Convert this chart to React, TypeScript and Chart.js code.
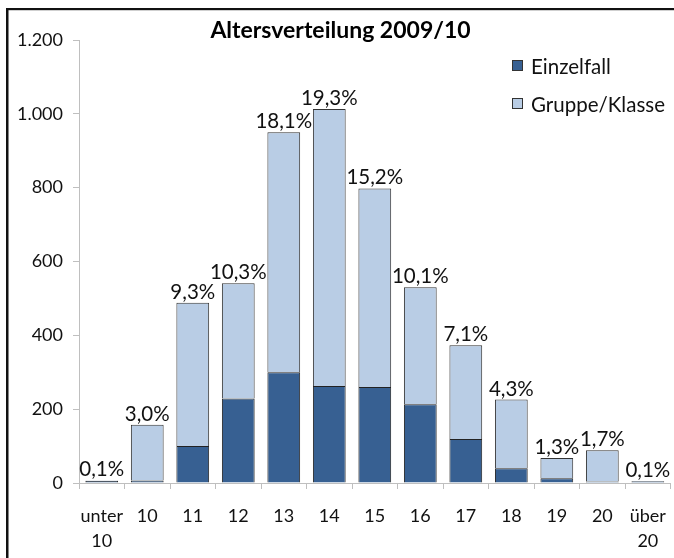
import React, { useEffect, useRef } from "react";
import { Chart, registerables } from "chart.js";

Chart.register(...registerables);

const categories: (string | string[])[] = [
  ["unter", "10"], "10", "11", "12", "13", "14", "15", "16", "17", "18", "19", "20", ["über", "20"],
];
const einzelfall = [6, 7, 100, 229, 300, 263, 260, 213, 119, 40, 13, 4, 5];
const gruppeKlasse = [1, 151, 388, 312, 650, 750, 538, 317, 254, 186, 55, 85, 0];
const percentLabels = ["0,1%", "3,0%", "9,3%", "10,3%", "18,1%", "19,3%", "15,2%", "10,1%", "7,1%", "4,3%", "1,3%", "1,7%", "0,1%"];
const yTickLabels = ["0", "200", "400", "600", "800", "1.000", "1.200"];
const titleText = "Altersverteilung 2009/10";
const seriesNames = ["Einzelfall", "Gruppe/Klasse"];

const DARK = "#376092";
const LIGHT = "#B9CDE5";
const FONT = "Lato, 'Open Sans', sans-serif";

const decorPlugin = {
  id: "decor",
  afterDatasetsDraw(chart: any) {
    const ctx = chart.ctx;
    ctx.save();
    const meta = chart.getDatasetMeta(1);
    ctx.font = `20.5px ${FONT}`;
    ctx.fillStyle = "#111";
    ctx.textAlign = "center";
    ctx.textBaseline = "alphabetic";
    meta.data.forEach((bar: any, i: number) => {
      ctx.fillText(percentLabels[i], bar.x, bar.y - 4);
    });
    ctx.restore();
  },
  afterDraw(chart: any) {
    const ctx = chart.ctx;
    ctx.save();
    ctx.fillStyle = "#111";
    ctx.fillRect(6, 8, 2.5, chart.height);
    ctx.fillRect(6, 8, chart.width, 2.2);
    ctx.font = `bold 23px ${FONT}`;
    ctx.textAlign = "center";
    ctx.textBaseline = "alphabetic";
    ctx.fillStyle = "#000";
    ctx.fillText(titleText, 340.5, 37.5);
    const colors = [DARK, LIGHT];
    const rows = [66, 104];
    ctx.font = `20.5px ${FONT}`;
    ctx.textAlign = "left";
    ctx.textBaseline = "middle";
    seriesNames.forEach((name, i) => {
      const y = rows[i];
      ctx.fillStyle = colors[i];
      ctx.fillRect(512, y - 6, 11, 11);
      ctx.strokeStyle = "#333";
      ctx.lineWidth = 1;
      ctx.strokeRect(512.5, y - 5.5, 10, 10);
      ctx.fillStyle = "#111";
      ctx.fillText(name, 531, y + 1);
    });
    ctx.restore();
  },
};

export default function App() {
  const ref = useRef<HTMLCanvasElement | null>(null);
  useEffect(() => {
    if (!ref.current) return;
    const chart = new Chart(ref.current, {
      type: "bar",
      data: {
        labels: categories,
        datasets: [
          {
            label: seriesNames[0],
            data: einzelfall,
            backgroundColor: DARK,
            borderColor: "#222",
            borderWidth: 1,
            barPercentage: 0.72,
            categoryPercentage: 1,
          },
          {
            label: seriesNames[1],
            data: gruppeKlasse,
            backgroundColor: LIGHT,
            borderColor: "#333",
            borderWidth: 1,
            barPercentage: 0.72,
            categoryPercentage: 1,
          },
        ],
      },
      options: {
        responsive: false,
        animation: false,
        layout: { padding: { top: 40, right: 2, left: 0, bottom: 0 } },
        plugins: {
          legend: { display: false },
          title: { display: false },
          tooltip: { enabled: false },
        },
        scales: {
          x: {
            stacked: true,
            grid: {
              offset: true,
              drawOnChartArea: false,
              drawTicks: true,
              tickLength: 6,
              color: "#BFBFBF",
            },
            border: { color: "#BFBFBF", width: 1 },
            ticks: {
              color: "#111",
              padding: 14,
              maxRotation: 0,
              autoSkip: false,
              font: { family: FONT, size: 18, lineHeight: 1.42 },
            },
            afterFit: (scale: any) => {
              scale.height = 75;
            },
          },
          y: {
            stacked: true,
            min: 0,
            max: 1200,
            grid: {
              drawOnChartArea: false,
              drawTicks: true,
              tickLength: 6,
              color: "#BFBFBF",
            },
            border: { color: "#BFBFBF", width: 1 },
            ticks: {
              stepSize: 200,
              color: "#111",
              padding: 10,
              font: { family: FONT, size: 18 },
              callback: (_v: any, i: number) => yTickLabels[i],
            },
            afterFit: (scale: any) => {
              scale.width = 79;
            },
          },
        },
      },
      plugins: [decorPlugin],
    });
    return () => chart.destroy();
  }, []);

  return (
    <div style={{ position: "fixed", left: 0, top: 0, width: 674, height: 558, overflow: "hidden", background: "#fff" }}>
      <canvas ref={ref} width={680} height={558} style={{ display: "block" }} />
    </div>
  );
}
